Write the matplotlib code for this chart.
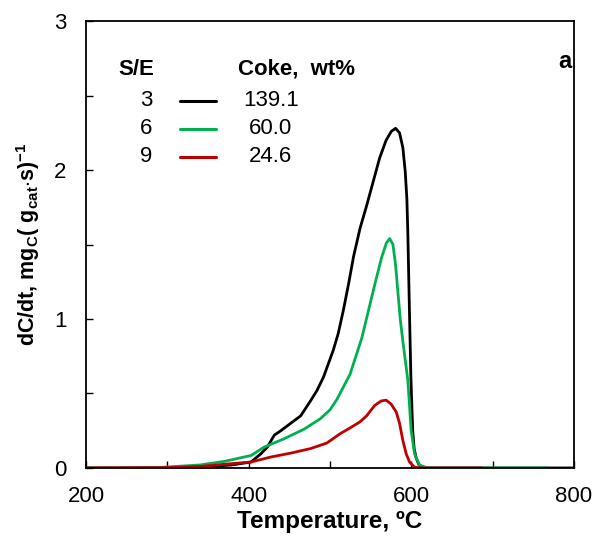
import numpy as np
import matplotlib
matplotlib.use("Agg")
import matplotlib.pyplot as plt
from matplotlib.ticker import MultipleLocator

plt.rcParams["font.family"] = ["Liberation Sans", "DejaVu Sans"]
plt.rcParams["mathtext.fontset"] = "custom"
plt.rcParams["mathtext.rm"] = "Liberation Sans"
plt.rcParams["mathtext.bf"] = "Liberation Sans:bold"
plt.rcParams["mathtext.it"] = "Liberation Sans:italic"

# S/E = 3 (black)
t_se3 = [200, 300, 340, 379, 403, 415, 423, 431.5, 439.5, 451.7, 464, 476, 484, 492,
         504, 510, 516.5, 523, 529, 537, 545, 553, 561, 569, 575.4, 580.7, 585.5,
         589.6, 592.5, 594.5, 595.7, 597.5, 599.5, 601.7, 603.5, 605.8, 609, 613, 620, 800]
r_se3 = [0.0, 0.0, 0.005, 0.02, 0.04, 0.095, 0.14, 0.22, 0.25, 0.30, 0.35, 0.45, 0.52, 0.61,
         0.79, 0.90, 1.06, 1.24, 1.42, 1.61, 1.76, 1.92, 2.08, 2.20, 2.26, 2.28, 2.25,
         2.15, 1.99, 1.81, 1.58, 1.10, 0.60, 0.25, 0.13, 0.07, 0.025, 0.005, 0.0, 0.0]

# S/E = 6 (green)
t_se6 = [200, 280, 310, 340, 371, 403, 419, 443.5, 468, 488, 500, 508.5, 524.7, 539,
         547, 555, 563.3, 569.3, 573.4, 577.4, 580.7, 583.5, 586.4, 589.6, 595.7,
         599.8, 604, 610, 620, 767]
r_se6 = [0.0, 0.0, 0.01, 0.02, 0.045, 0.084, 0.14, 0.196, 0.26, 0.33, 0.39, 0.46, 0.63, 0.87,
         1.05, 1.23, 1.41, 1.51, 1.54, 1.50, 1.36, 1.18, 1.00, 0.85, 0.59,
         0.25, 0.095, 0.02, 0.0, 0.0]

# S/E = 9 (red)
t_se9 = [200, 300, 340, 371, 403, 427, 452, 476, 496, 512.5, 525, 537, 545, 555, 563,
         569, 575, 581.5, 585.5, 589.6, 593.7, 597.8, 604, 615, 687]
r_se9 = [0.0, 0.003, 0.01, 0.025, 0.04, 0.073, 0.10, 0.13, 0.167, 0.23, 0.27, 0.31, 0.35, 0.42, 0.45,
         0.455, 0.43, 0.375, 0.30, 0.185, 0.095, 0.04, 0.005, 0.0, 0.0]

se_labels = ["3", "6", "9"]
coke_labels = ["139.1", "60.0", "24.6"]
colors = ["#000000", "#00B050", "#C00000"]

fig = plt.figure(figsize=(5.95, 5.41), dpi=100)
ax = fig.add_axes([0.1445, 0.135, 0.8202, 0.826])

for t, r, c in zip([t_se3, t_se6, t_se9], [r_se3, r_se6, r_se9], colors):
    ax.plot(t, r, color=c, lw=2.0, solid_capstyle="round", solid_joinstyle="round")

ax.set_xlim(200, 800)
ax.set_ylim(0, 3)
ax.xaxis.set_major_locator(MultipleLocator(200))
ax.xaxis.set_minor_locator(MultipleLocator(100))
ax.yaxis.set_major_locator(MultipleLocator(1))
ax.yaxis.set_minor_locator(MultipleLocator(0.5))
ax.tick_params(which="both", direction="in", length=5, width=1.0, labelsize=16,
               top=False, right=False)
ax.tick_params(axis="x", pad=13)
ax.tick_params(axis="y", pad=14)
for s in ax.spines.values():
    s.set_linewidth(1.3)

ax.set_xlabel("Temperature, ºC", fontsize=17.5, fontweight="bold", labelpad=2)
ax.set_ylabel(r"dC/dt, mg$_\mathbf{C}$( g$_\mathbf{cat}$$\mathbf{\cdot}$s)$^\mathbf{-1}$",
              fontsize=15.5, fontweight="bold", labelpad=9)

# legend drawn as a small table
tr = ax.transAxes
def fx(px):
    return (px - 86) / 488.0
def fy(py):
    return (468 - py) / 447.0

ax.text(fx(136), fy(69), "S/E", transform=tr, fontsize=16, fontweight="bold",
        ha="center", va="center")
ax.text(fx(297), fy(69), "Coke,  wt%", transform=tr, fontsize=16, fontweight="bold",
        ha="center", va="center")
for i, (se, ck, c) in enumerate(zip(se_labels, coke_labels, colors)):
    y = fy(100 + 28 * i)
    ax.text(fx(146), y, se, transform=tr, fontsize=16, ha="center", va="center")
    ax.plot([fx(180), fx(216)], [y - 0.003, y - 0.003], transform=tr, color=c, lw=2.2,
            solid_capstyle="round")
    ax.text(fx(271), y, ck, transform=tr, fontsize=16, ha="center", va="center")

ax.text(fx(565), fy(61), "a", transform=tr, fontsize=17, fontweight="bold",
        ha="center", va="center")

fig.savefig("out.png", dpi=100)
